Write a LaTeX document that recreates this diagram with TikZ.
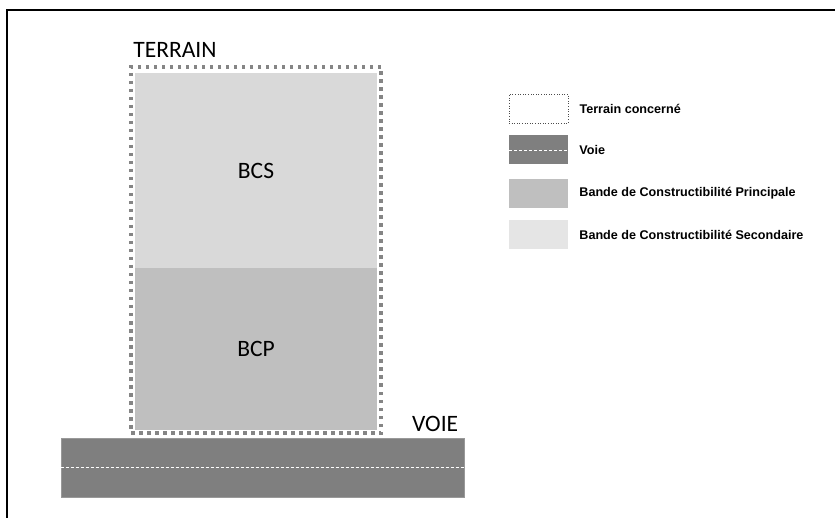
\documentclass[tikz,border=0pt]{standalone}
\usepackage{fontspec}
\setmainfont{Carlito}
\newfontfamily\legendfont{Liberation Sans}
\usetikzlibrary{positioning}
\definecolor{voiegray}{HTML}{7F7F7F}
\definecolor{bcpgray}{HTML}{BFBFBF}
\definecolor{bcsgray}{HTML}{D9D9D9}
\definecolor{bcslegend}{HTML}{E5E5E5}
\definecolor{dotgray}{HTML}{858585}

\begin{document}
\begin{tikzpicture}[x=1pt,y=-1pt,node distance=12pt and 11pt,
  zone/.style={rectangle,inner sep=0pt,minimum width=242pt,font=\fontsize{23.5}{23.5}\selectfont},
  legbox/.style={rectangle,inner sep=0pt,minimum width=59pt,minimum height=29pt},
  legtext/.style={inner sep=0pt,font=\legendfont\bfseries\fontsize{12.6}{12.6}\selectfont}]
\useasboundingbox (0,0) rectangle (835,518);
\draw[line width=2pt] (7,518) -- (7,10) -- (835,10);
% terrain
\node (terrain) [rectangle,draw=dotgray,line width=3.5pt,dash pattern=on 3.5pt off 4.5pt,
  minimum width=250pt,minimum height=366pt] at (256,250) {};
\node (bcs) [zone,fill=bcsgray,minimum height=195pt] at (256,170.5) {BCS};
\node (bcp) [zone,fill=bcpgray,minimum height=162pt,below=0pt of bcs] {BCP};
\node [anchor=south west,inner sep=0pt,font=\fontsize{23.5}{23.5}\selectfont] at ([shift={(4,-8)}]terrain.north west) {TERRAIN};
% voie
\node (voie) [rectangle,fill=voiegray,draw=voiegray!80!white,line width=0.8pt,
  minimum width=403pt,minimum height=59pt] at (262.5,467.5) {};
\draw[white,line width=0.6pt,dash pattern=on 3pt off 2pt] (voie.west) -- (voie.east);
\node [anchor=south east,inner sep=0pt,font=\fontsize{23.5}{23.5}\selectfont] at ([shift={(-6,-6)}]voie.north east) {VOIE};
% legende
\node (leg1) [legbox,draw=black!70,line width=0.6pt,dotted] at (538.5,108.5) {};
\node (leg2) [legbox,fill=voiegray,below=of leg1] {};
\draw[white,line width=0.5pt,dash pattern=on 3pt off 2pt] (leg2.west) -- (leg2.east);
\node (leg3) [legbox,fill=bcpgray,below=14pt of leg2] {};
\node (leg4) [legbox,fill=bcslegend,below=of leg3] {};
\node (txt1) [legtext,right=of leg1] {Terrain concerné};
\node (txt2) [legtext,right=of leg2] {Voie};
\node (txt3) [legtext,right=of leg3] {Bande de Constructibilité Principale};
\node (txt4) [legtext,right=of leg4] {Bande de Constructibilité Secondaire};
\end{tikzpicture}
\end{document}
